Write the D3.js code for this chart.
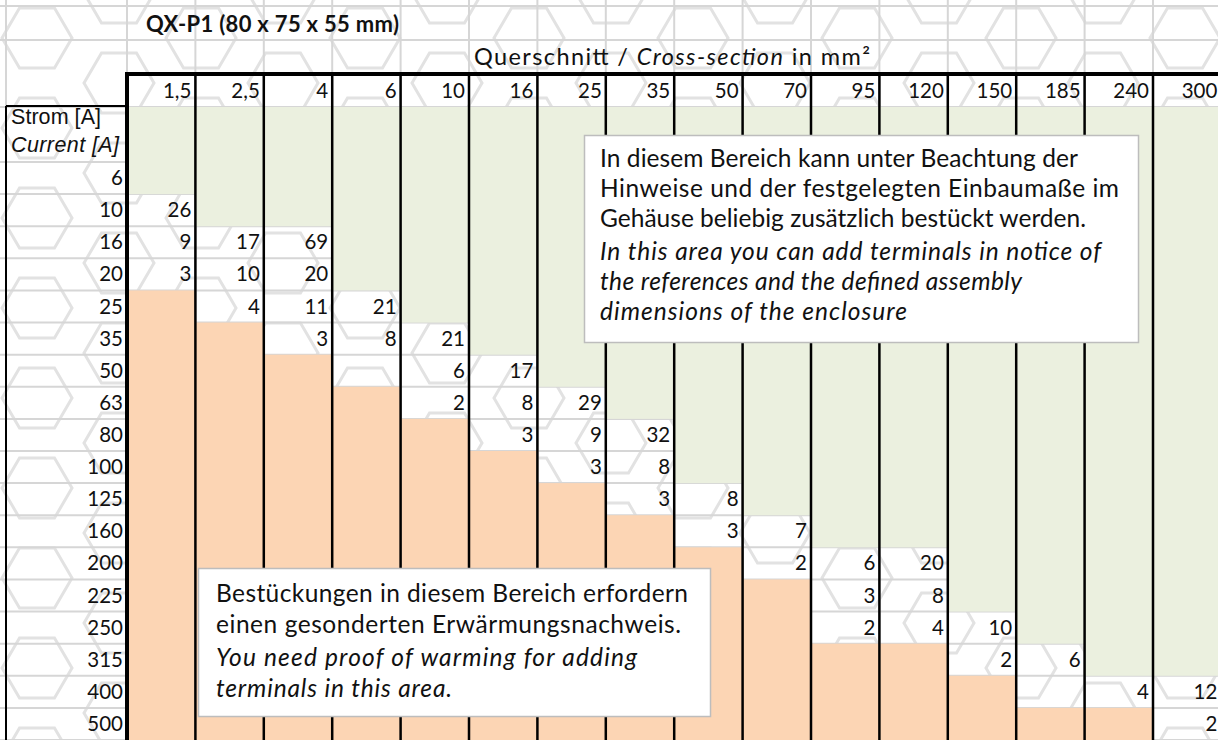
<!DOCTYPE html>
<html lang="de">

<head>
    <meta charset="UTF-8">
    <script src="https://cdnjs.cloudflare.com/ajax/libs/d3/7.8.5/d3.min.js"></script>
    <title>QX-P1</title>
    <style>
    body {
        margin: 0;
        background: #fff;
    }

    svg text {
        font-family: Lato, "Open Sans", sans-serif;
        fill: #111;
    }
    </style>
</head>

<body>
    <div class="content"></div>
    <script>
    // Daten aus der Tabelle
    const sections = ["1,5", "2,5", "4", "6", "10", "16", "25", "35", "50", "70", "95", "120", "150", "185", "240", "300"];
    const currents = ["6", "10", "16", "20", "25", "35", "50", "63", "80", "100", "125", "160", "200", "225", "250", "315", "400", "500"];
    // erste weisse Zeile je Querschnitt (darueber gruen)
    const firstRow = ["10", "16", "16", "25", "35", "50", "63", "80", "125", "160", "200", "200", "250", "315", "400", "400"];
    // Anzahl Klemmen ab firstRow nach unten, null = leere Zelle
    const counts = [
        [26, 9, 3], [17, 10, 4], [69, 20, 11, 3], [21, 8, null], [21, 6, 2], [17, 8, 3], [29, 9, 3], [32, 8, 3],
        [8, 3], [7, 2], [6, 3, 2], [20, 8, 4], [10, 2], [6, null], [4], [12, 2]
    ];
    const title = "QX-P1 (80 x 75 x 55 mm)";
    const upperNote = ["In diesem Bereich kann unter Beachtung der", "Hinweise und der festgelegten Einbaumaße im", "Gehäuse beliebig zusätzlich bestückt werden."];
    const upperNoteEn = ["In this area you can add terminals in notice of", "the references  and the defined assembly", "dimensions of the enclosure"];
    const lowerNote = ["Bestückungen in diesem Bereich erfordern", "einen gesonderten Erwärmungsnachweis."];
    const lowerNoteEn = ["You need proof of warming for adding", "terminals in this area."];

    var W = 1218, H = 740;
    var p = {
        labelLeft: 6,
        tableLeft: 127,
        tableRight: 1221.4,
        headTop: 74,
        headBottom: 107,
        rowTop: 162,
        rowBottom: 740,
        green: "#ebf0df",
        orange: "#fcd5b4",
        grid: "#d6d6d6",
        numSize: 20.5,
        noteSize: 24.5
    };

    var svg = d3.select(".content")
        .append("svg")
        .attr("width", W)
        .attr("height", H);

    var x = d3.scaleBand().domain(sections).range([p.tableLeft, p.tableRight]);
    var y = d3.scaleBand().domain(currents).range([p.rowTop, p.rowBottom]);

    // Wasserzeichen: Sechsecke
    var defs = svg.append("defs");
    var pat = defs.append("pattern")
        .attr("id", "hex")
        .attr("patternUnits", "userSpaceOnUse")
        .attr("width", 164)
        .attr("height", 90);
    var hexPts = function(cx, cy) {
        var r = 35, h = 30;
        return [[cx - r, cy], [cx - r / 2, cy - h], [cx + r / 2, cy - h], [cx + r, cy], [cx + r / 2, cy + h], [cx - r / 2, cy + h]]
            .map(function(d) { return d.join(","); }).join(" ");
    };
    [[37, 38], [119, 83], [119, -7]].forEach(function(c) {
        pat.append("polygon")
            .attr("points", hexPts(c[0], c[1]))
            .attr("fill", "none")
            .attr("stroke", "#e2e2e2")
            .attr("stroke-width", 3);
    });
    svg.append("rect").attr("width", W).attr("height", H).attr("fill", "url(#hex)");

    // Gitternetzlinien
    var grid = svg.append("g").attr("stroke", p.grid).attr("stroke-width", 2);
    var vx = [p.labelLeft, p.tableLeft].concat(sections.map(function(s) { return x(s) + x.bandwidth(); }));
    vx.forEach(function(v) {
        grid.append("line").attr("x1", v).attr("x2", v).attr("y1", 0).attr("y2", H);
    });
    var hy = [6, 40, p.headBottom, p.rowTop].concat(currents.map(function(c) { return y(c) + y.bandwidth(); }));
    hy.forEach(function(v) {
        grid.append("line").attr("x1", 0).attr("x2", W).attr("y1", v).attr("y2", v);
    });

    // gruene und orange Flaechen je Spalte
    sections.forEach(function(s, i) {
        var top = y(firstRow[i]);
        svg.append("rect")
            .attr("x", x(s)).attr("y", p.headBottom)
            .attr("width", x.bandwidth()).attr("height", top - p.headBottom)
            .attr("fill", p.green);
        var lastIdx = currents.indexOf(firstRow[i]) + counts[i].length;
        if (lastIdx < currents.length) {
            var oy = y(currents[lastIdx]);
            svg.append("rect")
                .attr("x", x(s)).attr("y", oy)
                .attr("width", x.bandwidth()).attr("height", p.rowBottom - oy)
                .attr("fill", p.orange);
        }
    });

    // schwarze Rahmen
    var frame = svg.append("g").attr("stroke", "#000");
    sections.forEach(function(s) {
        frame.append("line")
            .attr("x1", x(s) + x.bandwidth()).attr("x2", x(s) + x.bandwidth())
            .attr("y1", p.headTop).attr("y2", H)
            .attr("stroke-width", 2.5);
    });
    frame.append("line").attr("x1", p.tableLeft).attr("x2", p.tableLeft).attr("y1", p.headTop - 2).attr("y2", H).attr("stroke-width", 4);
    frame.append("line").attr("x1", p.tableLeft).attr("x2", W).attr("y1", p.headTop).attr("y2", p.headTop).attr("stroke-width", 4);
    frame.append("line").attr("x1", p.labelLeft).attr("x2", p.labelLeft).attr("y1", p.headBottom - 1).attr("y2", H).attr("stroke-width", 2);
    frame.append("line").attr("x1", p.labelLeft).attr("x2", p.tableLeft).attr("y1", p.headBottom - 1).attr("y2", p.headBottom - 1).attr("stroke-width", 2);

    // Titel und Achsentitel
    svg.append("text").attr("x", 146).attr("y", 32).attr("font-size", 22).attr("font-weight", "bold")
        .attr("textLength", 253).attr("lengthAdjust", "spacing").text(title);
    var qt = svg.append("text").attr("x", 474).attr("y", 65).attr("font-size", 23.5)
        .attr("textLength", 396).attr("lengthAdjust", "spacing");
    qt.append("tspan").text("Querschnitt / ");
    qt.append("tspan").attr("font-style", "italic").text("Cross-section");
    qt.append("tspan").text("  in mm²");

    // Spaltenkoepfe
    svg.append("g").selectAll("text").data(sections).join("text")
        .attr("x", function(d) { return x(d) + x.bandwidth() - 4; })
        .attr("y", p.headBottom - 9)
        .attr("text-anchor", "end")
        .attr("font-size", p.numSize)
        .text(function(d) { return d; });

    // Zeilenkoepfe
    var arial = "'Liberation Sans', Arial, sans-serif";
    svg.append("text").attr("x", 11).attr("y", 124).attr("font-size", 21.5).style("font-family", arial)
        .attr("textLength", 90).attr("lengthAdjust", "spacing").text("Strom [A]");
    svg.append("text").attr("x", 11).attr("y", 152).attr("font-size", 21.5).attr("font-style", "italic").style("font-family", arial)
        .attr("textLength", 108).attr("lengthAdjust", "spacing").text("Current [A]");
    svg.append("g").selectAll("text").data(currents).join("text")
        .attr("x", p.tableLeft - 4)
        .attr("y", function(d) { return y(d) + y.bandwidth() - 9; })
        .attr("text-anchor", "end")
        .attr("font-size", p.numSize)
        .text(function(d) { return d; });

    // Werte
    var cells = [];
    sections.forEach(function(s, i) {
        var start = currents.indexOf(firstRow[i]);
        counts[i].forEach(function(v, k) {
            if (v !== null) cells.push({ s: s, c: currents[start + k], v: v });
        });
    });
    svg.append("g").selectAll("text").data(cells).join("text")
        .attr("x", function(d) { return x(d.s) + x.bandwidth() - 4; })
        .attr("y", function(d) { return y(d.c) + y.bandwidth() - 9; })
        .attr("text-anchor", "end")
        .attr("font-size", p.numSize)
        .text(function(d) { return d.v; });

    // Textfelder
    function noteBox(box, lines, tx, ty, lh, gap) {
        var g = svg.append("g");
        g.append("rect").attr("x", box[0]).attr("y", box[1]).attr("width", box[2]).attr("height", box[3])
            .attr("fill", "#fff").attr("stroke", "#bdbdbd").attr("stroke-width", 1.5);
        var yy = ty;
        lines.forEach(function(l, i) {
            if (i > 0) yy += lh + (l.italic && !lines[i - 1].italic ? gap : 0);
            g.append("text").attr("x", tx).attr("y", yy).attr("font-size", p.noteSize)
                .attr("font-style", l.italic ? "italic" : null)
                .attr("textLength", l.w).attr("lengthAdjust", "spacing")
                .text(l.t);
        });
    }
    var upperW = [478, 519, 486, 501, 422, 307];
    var lowerW = [472, 465, 421, 236];
    var upperLines = upperNote.map(function(t) { return { t: t }; })
        .concat(upperNoteEn.map(function(t) { return { t: t, italic: true }; }));
    upperLines.forEach(function(l, i) { l.w = upperW[i]; });
    var lowerLines = lowerNote.map(function(t) { return { t: t }; })
        .concat(lowerNoteEn.map(function(t) { return { t: t, italic: true }; }));
    lowerLines.forEach(function(l, i) { l.w = lowerW[i]; });

    noteBox([584.5, 135.5, 554, 207], upperLines, 600, 167, 30, 3);
    noteBox([198.5, 568.5, 512, 148], lowerLines, 216, 602, 31, 2);
    </script>
</body>

</html>
